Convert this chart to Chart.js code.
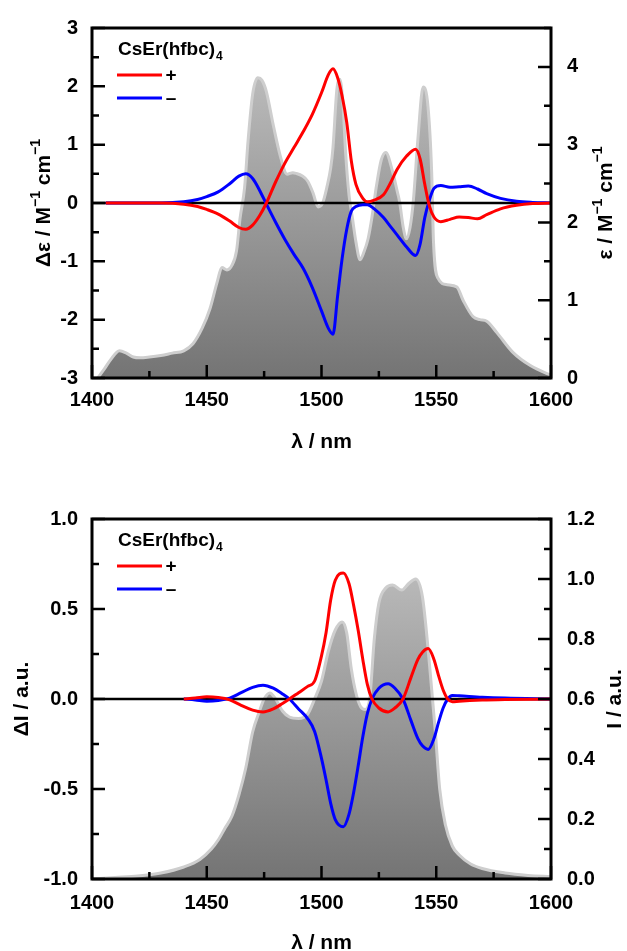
<!DOCTYPE html>
<html>
<head>
<meta charset="utf-8">
<script src="https://cdn.jsdelivr.net/npm/chart.js@4.4.1/dist/chart.umd.min.js"></script>
<style>
  html, body { margin: 0; padding: 0; background: #fff; }
  #wrap { position: relative; width: 627px; height: 951px; }
  canvas { position: absolute; left: 0; }
</style>
</head>
<body>
<div id="wrap">
  <canvas id="cdChart" width="627" height="475" style="top:0"></canvas>
  <canvas id="cplChart" width="627" height="476" style="top:475px"></canvas>
</div>
<script>
// ---- top panel: absorption (eps) and CD (delta eps) ----
const absWl  = [1402.5, 1405, 1408, 1412, 1415, 1418, 1421, 1425, 1430, 1435, 1440, 1444, 1448, 1451.4, 1454.5, 1456.6, 1458.8, 1461, 1463, 1464.5, 1466.5, 1468, 1470, 1472.3, 1474, 1476, 1479, 1482, 1485, 1487.5, 1489, 1491.5, 1494, 1496.3, 1498.5, 1500.5, 1502.4, 1504, 1505, 1506.7, 1508, 1509.4, 1510.5, 1512, 1513.5, 1515, 1516.8, 1518.5, 1520.3, 1522, 1524, 1526, 1528, 1531, 1533, 1534, 1535.6, 1537, 1538.6, 1540, 1542, 1544.3, 1546.4, 1548, 1548.8, 1550.8, 1554.7, 1559, 1561.7, 1566, 1569, 1572, 1576.5, 1583.4, 1591, 1598, 1600];
const absEps = [0, 0.1, 0.23, 0.35, 0.32, 0.27, 0.26, 0.27, 0.29, 0.32, 0.35, 0.44, 0.64, 0.89, 1.23, 1.42, 1.39, 1.45, 1.64, 2.05, 2.45, 3.05, 3.65, 3.86, 3.83, 3.68, 3.25, 2.86, 2.62, 2.64, 2.63, 2.6, 2.53, 2.38, 2.2, 2.25, 2.46, 2.7, 2.96, 3.71, 3.84, 3.5, 2.9, 2.35, 2.05, 1.75, 1.52, 1.62, 1.79, 2.07, 2.48, 2.8, 2.9, 2.65, 2.4, 2.27, 1.94, 1.79, 1.94, 2.27, 3.07, 3.74, 3.49, 2.65, 1.75, 1.28, 1.2, 1.17, 1.0, 0.79, 0.75, 0.73, 0.58, 0.33, 0.16, 0.06, 0.04];

const cdWl    = [1406, 1430, 1440, 1446, 1450, 1455, 1460, 1464, 1467, 1470, 1473, 1476, 1480, 1484, 1488, 1492, 1496, 1500, 1503, 1505, 1507, 1509, 1511, 1513, 1515, 1518, 1520, 1523, 1527, 1530, 1533, 1537, 1541, 1543, 1545, 1547, 1549, 1552, 1556, 1560, 1564, 1568, 1572, 1578, 1585, 1592, 1600];
const cdPlus  = [0, 0, -0.02, -0.06, -0.11, -0.19, -0.31, -0.42, -0.45, -0.38, -0.22, 0, 0.36, 0.68, 0.95, 1.22, 1.52, 1.89, 2.2, 2.3, 2.15, 1.83, 1.38, 0.72, 0.32, 0.08, 0.02, 0.05, 0.14, 0.34, 0.58, 0.8, 0.92, 0.75, 0.32, -0.05, -0.24, -0.32, -0.28, -0.24, -0.25, -0.27, -0.2, -0.1, -0.04, -0.01, 0];
const cdMinus = [0, 0, 0.02, 0.06, 0.11, 0.19, 0.33, 0.46, 0.5, 0.42, 0.22, -0.02, -0.33, -0.62, -0.88, -1.12, -1.45, -1.85, -2.15, -2.25, -1.6, -0.95, -0.45, -0.14, -0.06, -0.03, -0.03, -0.1, -0.25, -0.4, -0.55, -0.75, -0.9, -0.7, -0.25, 0.05, 0.25, 0.3, 0.27, 0.28, 0.29, 0.24, 0.16, 0.08, 0.03, 0.01, 0];

// ---- bottom panel: emission (I) and CPL (delta I) ----
const emWl  = [1400, 1410, 1420, 1430, 1440, 1447, 1452, 1455, 1458, 1461, 1464, 1467, 1470, 1473, 1475, 1477.5, 1480, 1483, 1486, 1490, 1494, 1497, 1500, 1503, 1506, 1509, 1511, 1513, 1515, 1517, 1519, 1521, 1523, 1525, 1528, 1531, 1535, 1538, 1541, 1544, 1547, 1549.5, 1551.5, 1554, 1557, 1560, 1565, 1570, 1580, 1590, 1600];
const emInt = [0, 0.005, 0.01, 0.02, 0.04, 0.065, 0.1, 0.13, 0.17, 0.21, 0.28, 0.37, 0.49, 0.56, 0.6, 0.62, 0.6, 0.56, 0.54, 0.535, 0.55, 0.6, 0.66, 0.76, 0.83, 0.857, 0.82, 0.7, 0.62, 0.575, 0.565, 0.6, 0.8, 0.92, 0.97, 0.98, 0.963, 0.985, 1.0, 0.94, 0.72, 0.5, 0.3, 0.18, 0.11, 0.08, 0.05, 0.035, 0.02, 0.012, 0.008];

const cplWl    = [1440, 1445, 1450, 1455, 1460, 1465, 1470, 1474.5, 1479, 1483, 1486, 1490, 1494, 1497, 1500, 1502, 1504, 1506, 1509.5, 1512, 1514, 1516, 1518, 1520, 1522, 1525, 1529, 1532, 1535.5, 1539, 1542, 1544, 1546.5, 1549, 1551, 1553, 1555, 1557, 1560, 1570, 1580, 1600];
const cplPlus  = [0, 0.005, 0.012, 0.008, -0.005, -0.035, -0.062, -0.072, -0.055, -0.025, 0, 0.035, 0.07, 0.1, 0.24, 0.37, 0.55, 0.66, 0.7, 0.64, 0.52, 0.38, 0.22, 0.08, 0, -0.05, -0.072, -0.05, 0, 0.12, 0.22, 0.26, 0.28, 0.22, 0.13, 0.05, 0, -0.015, -0.012, -0.006, -0.003, 0];
const cplMinus = [0, -0.005, -0.012, -0.008, 0.005, 0.035, 0.065, 0.077, 0.06, 0.028, 0, -0.055, -0.11, -0.18, -0.33, -0.45, -0.58, -0.67, -0.71, -0.64, -0.52, -0.37, -0.21, -0.08, 0, 0.06, 0.085, 0.06, 0, -0.12, -0.22, -0.26, -0.28, -0.22, -0.13, -0.05, 0, 0.02, 0.018, 0.01, 0.005, 0];

const zeroWl  = [1400, 1600];
const zeroVal = [0, 0];

const FONT = '"Liberation Sans", Arial, sans-serif';
Chart.defaults.font.family = FONT;
Chart.defaults.font.weight = 'bold';
Chart.defaults.font.size = 20;
Chart.defaults.color = '#000';

const pts = (xs, ys) => xs.map((x, i) => ({ x, y: ys[i] }));

// text with super/subscript parts, centred on (x, y) baseline
function richText(ctx, parts, x, y, rot, size) {
    const fontOf = p => `bold ${p.sup || p.sub ? Math.round(size * 0.68) : size}px ${FONT}`;
    ctx.save();
    ctx.translate(x, y);
    ctx.rotate(rot);
    ctx.textAlign = 'left';
    ctx.textBaseline = 'alphabetic';
    let total = 0;
    parts.forEach(p => { ctx.font = fontOf(p); total += ctx.measureText(p.t).width; });
    let cx = -total / 2;
    parts.forEach(p => {
        ctx.font = fontOf(p);
        const dy = p.sup ? -size * 0.5 : p.sub ? size * 0.25 : 0;
        ctx.fillText(p.t, cx, dy);
        cx += ctx.measureText(p.t).width;
    });
    ctx.restore();
}

const decor = {
    id: 'decor',
    afterDatasetsDraw(chart, args, o) {
        const { ctx, chartArea: a, scales } = chart;
        ctx.save();
        ctx.strokeStyle = '#000';
        ctx.fillStyle = '#000';

        // inward ticks, long on major values, short on minor ones
        const marks = (scale, minor, major, draw) => {
            const n = Math.round((scale.max - scale.min) / minor);
            for (let i = 0; i <= n; i++) {
                const v = scale.min + i * minor;
                const r = v / major;
                draw(scale.getPixelForValue(v), Math.abs(r - Math.round(r)) < 1e-6 ? 13 : 7);
            }
        };
        ctx.lineWidth = 2.5;
        ctx.beginPath();
        marks(scales.x, 25, 50, (p, l) => { ctx.moveTo(p, a.bottom); ctx.lineTo(p, a.bottom - l); });
        marks(scales.y, o.yMinor, o.yMajor, (p, l) => { ctx.moveTo(a.left, p); ctx.lineTo(a.left + l, p); });
        marks(scales.y2, o.y2Minor, o.y2Major, (p, l) => { ctx.moveTo(a.right, p); ctx.lineTo(a.right - l, p); });
        ctx.stroke();

        ctx.lineWidth = 3;
        ctx.strokeRect(a.left, a.top, a.right - a.left, a.bottom - a.top);

        // axis titles
        const midY = (a.top + a.bottom) / 2;
        richText(ctx, o.leftTitle, o.leftX, midY, -Math.PI / 2, 21);
        richText(ctx, o.rightTitle, o.rightX, midY, -Math.PI / 2, 21);
        richText(ctx, [{ t: 'λ / nm' }], (a.left + a.right) / 2, o.xTitleY, 0, 21);

        // legend inside the plot
        const lx = a.left + 26;
        ctx.textAlign = 'left';
        ctx.textBaseline = 'alphabetic';
        ctx.font = `bold 19px ${FONT}`;
        ctx.fillText('CsEr(hfbc)', lx, a.top + 27);
        const w = ctx.measureText('CsEr(hfbc)').width;
        ctx.font = `bold 12px ${FONT}`;
        ctx.fillText('4', lx + w + 1, a.top + 32);

        const keyed = chart.data.datasets.filter(d => d.label === '+' || d.label === '–');
        keyed.forEach((d, i) => {
            const ky = a.top + 47 + i * 23;
            ctx.strokeStyle = d.borderColor;
            ctx.lineWidth = 3;
            ctx.beginPath();
            ctx.moveTo(a.left + 25, ky);
            ctx.lineTo(a.left + 70, ky);
            ctx.stroke();
            ctx.font = `bold 19px ${FONT}`;
            ctx.textAlign = 'center';
            ctx.textBaseline = 'middle';
            ctx.fillText(d.label, a.left + 79, ky + 1);
        });
        ctx.restore();
    }
};

function grayFill(context) {
    const { chart } = context;
    const area = chart.chartArea;
    if (!area) return '#999';
    const g = chart.ctx.createLinearGradient(0, area.top, 0, area.bottom);
    g.addColorStop(0, '#c6c6c6');
    g.addColorStop(1, '#747474');
    return g;
}

function makeChart(id, c) {
    const line = (label, data, color, order) => ({
        label, data, borderColor: color, borderWidth: 3, pointRadius: 0,
        fill: false, cubicInterpolationMode: 'monotone', yAxisID: 'y', order
    });
    return new Chart(document.getElementById(id), {
        type: 'line',
        data: {
            datasets: [
                line('+', c.plus, '#ff0000', 0),
                line('–', c.minus, '#0000ff', 1),
                { label: 'zero', data: pts(zeroWl, zeroVal), borderColor: '#000', borderWidth: 2.5,
                  pointRadius: 0, fill: false, yAxisID: 'y', order: 2 },
                { label: 'spectrum', data: c.gray, borderColor: '#cecece', borderWidth: 3,
                  backgroundColor: grayFill, fill: 'origin', pointRadius: 0,
                  cubicInterpolationMode: 'monotone', yAxisID: 'y2', order: 3 }
            ]
        },
        options: {
            responsive: false,
            animation: false,
            devicePixelRatio: 1,
            layout: { padding: { top: c.padTop, left: 0, right: 0, bottom: 0 } },
            plugins: {
                legend: { display: false },
                tooltip: { enabled: false },
                decor: c.decor
            },
            scales: {
                x: {
                    type: 'linear', position: 'bottom', min: 1400, max: 1600,
                    grid: { display: false, drawTicks: false }, border: { display: false },
                    ticks: { stepSize: 50, padding: c.xPad, callback: v => String(v) },
                    afterFit: s => { s.height = c.xHeight; }
                },
                y: {
                    type: 'linear', position: 'left', min: c.y.min, max: c.y.max,
                    grid: { display: false, drawTicks: false }, border: { display: false },
                    ticks: { stepSize: c.y.step, padding: 14, includeBounds: false, callback: c.y.fmt },
                    afterFit: s => { s.width = 92; }
                },
                y2: {
                    type: 'linear', position: 'right', min: c.y2.min, max: c.y2.max,
                    grid: { display: false, drawTicks: false }, border: { display: false },
                    ticks: { stepSize: c.y2.step, padding: 16, includeBounds: false, callback: c.y2.fmt },
                    afterFit: s => { s.width = 76; }
                }
            }
        },
        plugins: [decor]
    });
}

const sup = t => ({ t, sup: true });

makeChart('cdChart', {
    plus: pts(cdWl, cdPlus), minus: pts(cdWl, cdMinus), gray: pts(absWl, absEps),
    padTop: 18, xHeight: 97, xPad: 10,
    y:  { min: -3, max: 3, step: 1, fmt: v => String(v) },
    y2: { min: 0, max: 4.5, step: 1, fmt: v => Number.isInteger(v) ? String(v) : '' },
    decor: {
        yMinor: 0.5, yMajor: 1, y2Minor: 0.5, y2Major: 1,
        leftTitle: [{ t: 'Δε / M' }, sup('−1'), { t: ' cm' }, sup('−1')], leftX: 50,
        rightTitle: [{ t: 'ε / M' }, sup('−1'), { t: ' cm' }, sup('−1')], rightX: 612,
        xTitleY: 448
    }
});

makeChart('cplChart', {
    plus: pts(cplWl, cplPlus), minus: pts(cplWl, cplMinus), gray: pts(emWl, emInt),
    padTop: 44, xHeight: 72, xPad: 12,
    y:  { min: -1, max: 1, step: 0.5, fmt: v => v.toFixed(1) },
    y2: { min: 0, max: 1.2, step: 0.2, fmt: v => v.toFixed(1) },
    decor: {
        yMinor: 0.25, yMajor: 0.5, y2Minor: 0.1, y2Major: 0.2,
        leftTitle: [{ t: 'ΔI / a.u.' }], leftX: 28,
        rightTitle: [{ t: 'I / a.u.' }], rightX: 621,
        xTitleY: 474
    }
});
</script>
</body>
</html>
